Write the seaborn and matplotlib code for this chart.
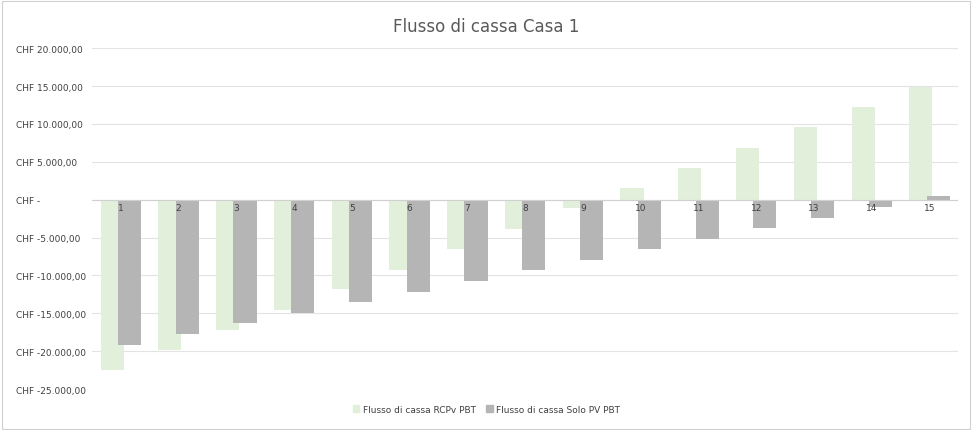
import matplotlib
matplotlib.use("Agg")
import matplotlib.pyplot as plt
import seaborn as sns
import pandas as pd
from matplotlib.ticker import FuncFormatter
from matplotlib.patches import Rectangle

years = list(range(1, 16))
rcpv = [-22500, -19900, -17150, -14500, -11750, -9230, -6460, -3830, -1050,
        1580, 4220, 6860, 9630, 12270, 14900]
solo = [-19130, -17680, -16230, -14900, -13460, -12140, -10690, -9230, -7920,
        -6460, -5150, -3690, -2370, -920, 530]
series = ["Flusso di cassa RCPv PBT", "Flusso di cassa Solo PV PBT"]
colors = ["#e2efda", "#b5b5b5"]

df = pd.DataFrame({"Anno": years * 2, "Valore": rcpv + solo,
                   "Serie": [series[0]] * 15 + [series[1]] * 15})

sns.set_theme(style="white")
plt.rcParams['font.family'] = ['DejaVu Sans']
fig = plt.figure(figsize=(9.73, 4.31), dpi=100)
ax = fig.add_axes([0.095, 0.095, 0.89, 0.791])
sns.barplot(data=df, x="Anno", y="Valore", hue="Serie", palette=colors,
            dodge=True, width=0.8, ax=ax, legend=False, saturation=1,
            linewidth=0)
for p in ax.patches:
    if p.get_width() <= 0:
        continue
    p.set_linewidth(0)
    fc = matplotlib.colors.to_hex(p.get_facecolor())
    if fc == colors[0]:
        p.set_x(p.get_x() + 0.05)
    else:
        p.set_x(p.get_x() - 0.05)
        p.set_zorder(3)

ax.set_ylim(-25000, 20000)
ax.set_xlim(-0.49, 14.5)
ax.set_yticks(range(-25000, 20001, 5000))

def fmt(v, pos):
    if v == 0:
        return "CHF -"
    s = f"{abs(v):,.2f}".replace(",", "X").replace(".", ",").replace("X", ".")
    return f"CHF {'-' if v < 0 else ''}{s}"
ax.yaxis.set_major_formatter(FuncFormatter(fmt))
ax.tick_params(axis='y', labelsize=6.5, colors="#404040", length=0, pad=55)
for lab in ax.get_yticklabels():
    lab.set_horizontalalignment("left")
ax.set_xticks([])
ax.set_xlabel("")
ax.set_ylabel("")
ax.grid(axis='y', color="#e3e3e3", linewidth=0.8)
ax.set_axisbelow(True)
for s in ax.spines.values():
    s.set_visible(False)
ax.axhline(0, color="#d0d0d0", linewidth=0.8, zorder=4)
for i, y in enumerate(years):
    ax.text(i, -500, str(y), ha="center", va="top", fontsize=6.5,
            color="#404040", zorder=5)

fig.text(0.5, 0.937, "Flusso di cassa Casa 1", ha="center", va="center",
         fontsize=12, color="#595959")
handles = [Rectangle((0, 0), 1, 1, color=c) for c in colors]
fig.legend(handles, series, loc="center", bbox_to_anchor=(0.5, 0.048), ncol=2,
           frameon=False, fontsize=6.5, handlelength=0.7, handleheight=0.7,
           columnspacing=1.2, handletextpad=0.4, labelcolor="#404040")
fig.patches.append(Rectangle((0.002, 0.003), 0.995, 0.993, transform=fig.transFigure,
                             fill=False, edgecolor="#d0d0d0", linewidth=0.8))
fig.savefig("out.png", dpi=100)
